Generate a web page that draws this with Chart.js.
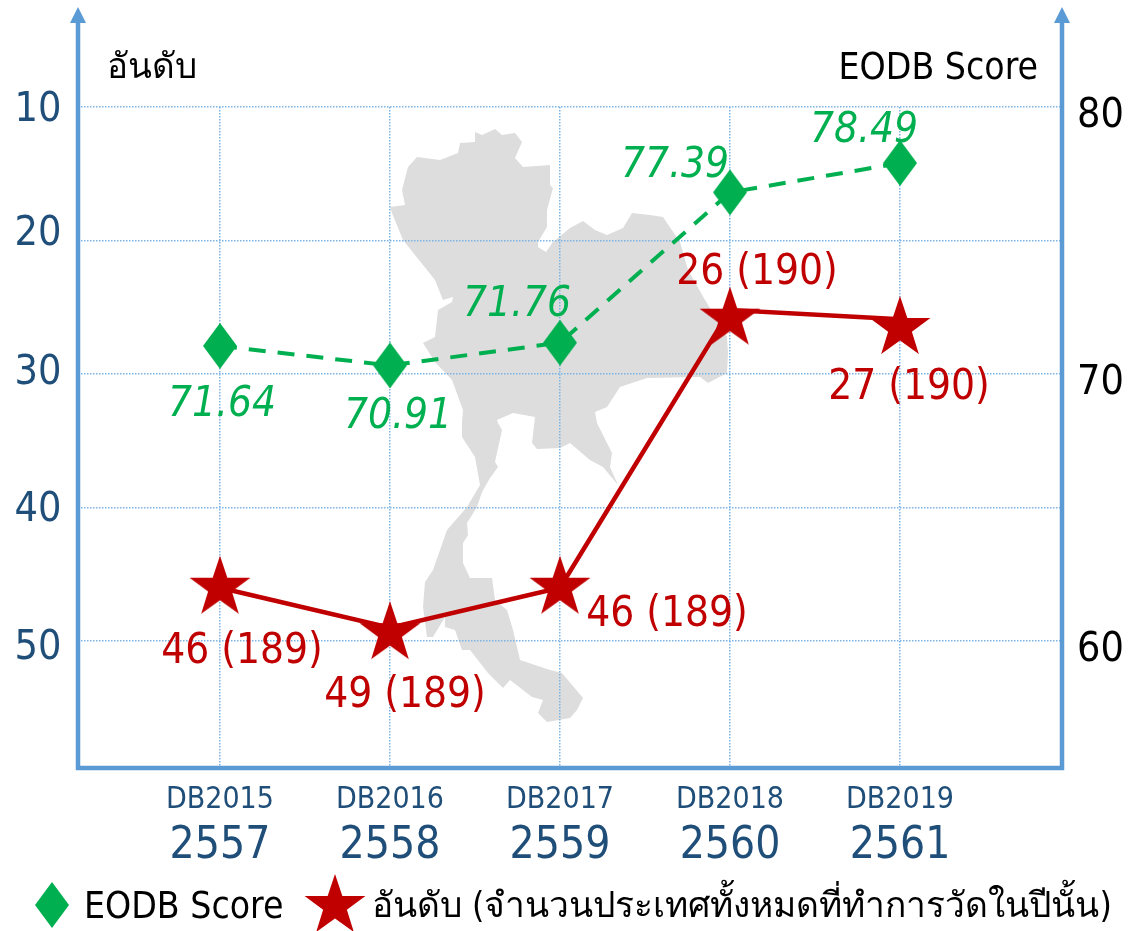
<!DOCTYPE html>
<html>
<head>
<meta charset="utf-8">
<style>html,body{margin:0;padding:0;background:#fff}canvas{display:block}</style>
<script src="https://cdn.jsdelivr.net/npm/chart.js@4"></script>
</head>
<body>
<canvas id="c" width="1128" height="931"></canvas>
<script>
const categories = ['DB2015', 'DB2016', 'DB2017', 'DB2018', 'DB2019']
const years = ['2557', '2558', '2559', '2560', '2561']
const scoreValues = [71.64, 70.91, 71.76, 77.39, 78.49]
const rankStars = [46, 49.4, 46, 25.85, 26.55]
const rankLine = [46, 49, 46, 25.2, 25.9]
const rankLabels = ['46 (189)', '49 (189)', '46 (189)', '26 (190)', '27 (190)']
const rankTicks = [10, 20, 30, 40, 50]
const scoreTicks = [60, 70, 80]
const scoreName = 'EODB Score'
const rankName = 'อันดับ'
const rankLegend = 'อันดับ (จำนวนประเทศทั้งหมดที่ทำการวัดในปีนั้น)'

const FONT = '"DejaVu Sans Condensed", "Noto Sans", sans-serif'
const BLUE = '#5B9BD5', GRID = '#7DB4E6', NAVY = '#1F4E79', GREEN = '#00B050', RED = '#C00000'

// label placement relative to the marks, and the hand-moved left tick labels
const scoreOffsets = [[2, 59], [8, 52], [-43, -38], [-55, -26], [-36, -32]]
const rankOffsets = [[22, 64], [15, 63], [107, 27], [27, -46], [9, 60]]
const rankTickNudge = [3, -6, -1, 3, 7]

// outline of the map behind the chart, in page pixels
const mapOutline = [[475,132],[482,135],[495,129],[502,135],[515,133],[522,142],[515,158],[523,167],[550,165],[550,185],[553,188],[547,210],[547,227],[538,242],[538,247],[546,252],[553,242],[570,228],[583,221],[595,230],[607,235],[623,228],[632,213],[650,215],[663,217],[680,242],[688,270],[705,300],[716,318],[727,337],[728,353],[727,373],[708,383],[700,377],[647,378],[620,387],[607,407],[595,412],[597,423],[602,433],[612,453],[610,467],[618,485],[603,467],[590,460],[570,443],[560,448],[537,449],[532,443],[535,417],[513,413],[497,420],[498,423],[502,430],[495,462],[498,467],[490,478],[482,492],[477,507],[467,523],[468,535],[463,543],[463,563],[470,578],[492,578],[495,600],[507,610],[513,630],[520,660],[550,670],[562,673],[583,698],[577,710],[570,718],[547,722],[538,713],[543,700],[532,697],[510,680],[503,688],[488,673],[470,650],[462,650],[455,630],[445,627],[445,617],[433,637],[427,637],[423,607],[425,582],[433,570],[447,530],[467,507],[480,485],[475,457],[462,437],[462,423],[463,410],[452,380],[435,362],[423,343],[435,337],[438,310],[452,302],[453,297],[443,300],[435,280],[403,240],[392,213],[390,207],[405,205],[402,190],[408,167],[417,157],[440,160],[458,153],[460,143],[475,142]]

function shape(w, h, pts, color) {
  const cv = document.createElement('canvas')
  cv.width = w
  cv.height = h
  const g = cv.getContext('2d')
  g.fillStyle = color
  g.beginPath()
  pts.forEach(p => g.lineTo(p[0], p[1]))
  g.closePath()
  g.fill()
  return cv
}
const diamond = shape(34, 46, [[17, 0], [34, 23], [17, 46], [0, 23]], GREEN)
const starPts = []
for (let i = 0; i < 10; i++) {
  const r = i % 2 ? 12.5 : 32
  const a = -Math.PI / 2 + i * Math.PI / 5
  starPts.push([33 + r * Math.cos(a), 33 + r * Math.sin(a)])
}
const star = shape(66, 66, starPts, RED)

const xy = arr => arr.map((v, i) => ({ x: i, y: v }))
const xTicks = scale => { scale.ticks = categories.map((_, i) => ({ value: i })) }

const decorations = {
  id: 'decorations',
  beforeDraw(chart) {
    const ctx = chart.ctx
    ctx.save()
    ctx.fillStyle = '#DDDDDD'
    ctx.beginPath()
    mapOutline.forEach(p => ctx.lineTo(p[0], p[1]))
    ctx.closePath()
    ctx.fill()
    ctx.restore()
  },
  afterDraw(chart) {
    const ctx = chart.ctx
    const { left, right, bottom } = chart.chartArea
    ctx.save()
    // axis lines with arrow heads
    ctx.strokeStyle = BLUE
    ctx.fillStyle = BLUE
    ctx.lineWidth = 4.5
    ctx.beginPath()
    ctx.moveTo(left, 20)
    ctx.lineTo(left, bottom)
    ctx.lineTo(right + 1, bottom)
    ctx.lineTo(right + 1, 20)
    ctx.stroke()
    ;[left, right + 1].forEach(x => {
      ctx.beginPath()
      ctx.moveTo(x, 7)
      ctx.lineTo(x + 8, 23)
      ctx.lineTo(x - 8, 23)
      ctx.closePath()
      ctx.fill()
    })
    ctx.textBaseline = 'middle'
    // left tick labels
    ctx.fillStyle = NAVY
    ctx.font = '41px ' + FONT
    ctx.textAlign = 'center'
    rankTicks.forEach((t, i) => {
      ctx.fillText(String(t), 38, chart.scales.y.getPixelForValue(t) + rankTickNudge[i])
    })
    // corner captions
    ctx.fillStyle = '#000'
    ctx.font = '35px ' + FONT
    ctx.textAlign = 'left'
    ctx.fillText(rankName, 107, 69)
    ctx.font = '37px ' + FONT
    ctx.textAlign = 'right'
    ctx.fillText(scoreName, 1038, 69)
    // value labels
    ctx.textAlign = 'center'
    ctx.fillStyle = GREEN
    ctx.font = 'italic 42px ' + FONT
    chart.getDatasetMeta(0).data.forEach((pt, i) => {
      ctx.fillText(scoreValues[i].toFixed(2), pt.x + scoreOffsets[i][0], pt.y + scoreOffsets[i][1])
    })
    ctx.fillStyle = RED
    ctx.font = '42px ' + FONT
    chart.getDatasetMeta(1).data.forEach((pt, i) => {
      ctx.fillText(rankLabels[i], pt.x + rankOffsets[i][0], pt.y + rankOffsets[i][1])
    })
    // legend
    ctx.drawImage(diamond, 35, 882)
    ctx.drawImage(star, 302, 873)
    ctx.fillStyle = '#000'
    ctx.textAlign = 'left'
    ctx.font = '37px ' + FONT
    ctx.fillText(scoreName, 84, 908)
    ctx.font = '35.3px ' + FONT
    ctx.fillText(rankLegend, 372, 908)
    ctx.restore()
  }
}

new Chart(document.getElementById('c'), {
  type: 'line',
  data: {
    datasets: [
      { label: scoreName, data: xy(scoreValues), yAxisID: 'y2', xAxisID: 'x', borderColor: GREEN, backgroundColor: GREEN, borderWidth: 4, borderDash: [17, 12], pointStyle: diamond, pointRadius: 20, tension: 0 },
      { label: rankLegend, data: xy(rankStars), yAxisID: 'y', xAxisID: 'x', showLine: false, pointStyle: star, pointRadius: 30, borderColor: RED, backgroundColor: RED },
      { label: rankName, data: xy(rankLine), yAxisID: 'y', xAxisID: 'x', borderColor: RED, borderWidth: 4.5, pointRadius: 0, tension: 0 }
    ]
  },
  options: {
    responsive: false,
    animation: false,
    layout: { padding: { top: 107 } },
    plugins: {
      tooltip: { enabled: false },
      legend: { display: false }
    },
    scales: {
      x: {
        type: 'linear', position: 'bottom', min: -0.835, max: 4.947,
        afterBuildTicks: xTicks,
        afterFit: s => { s.height = 44 },
        grid: { color: GRID, lineWidth: 1.5, drawTicks: false },
        border: { display: false, dash: [1.5, 1.5] },
        ticks: { color: NAVY, font: { size: 30, family: FONT }, padding: 14, maxRotation: 0, autoSkip: false, callback: v => categories[v] }
      },
      x2: {
        type: 'linear', position: 'bottom', min: -0.835, max: 4.947,
        afterBuildTicks: xTicks,
        afterFit: s => { s.height = 119 },
        grid: { display: false },
        border: { display: false },
        ticks: { color: NAVY, font: { size: 44, family: FONT }, padding: 0, maxRotation: 0, autoSkip: false, callback: v => years[v] }
      },
      y: {
        position: 'left', reverse: true, min: 10, max: 59.5,
        afterBuildTicks: s => { s.ticks = rankTicks.map(v => ({ value: v })) },
        afterFit: s => { s.width = 78 },
        grid: { color: GRID, lineWidth: 1.5, drawTicks: false },
        border: { display: false, dash: [1.5, 1.5] },
        ticks: { display: false }
      },
      y2: {
        position: 'right', min: 55.83, max: 80.59,
        afterBuildTicks: s => { s.ticks = scoreTicks.map(v => ({ value: v })) },
        afterFit: s => { s.width = 67 },
        grid: { display: false },
        border: { display: false },
        ticks: { color: '#000', font: { size: 41, family: FONT }, padding: 8, labelOffset: -6 }
      }
    }
  },
  plugins: [decorations]
})
</script>
</body>
</html>
